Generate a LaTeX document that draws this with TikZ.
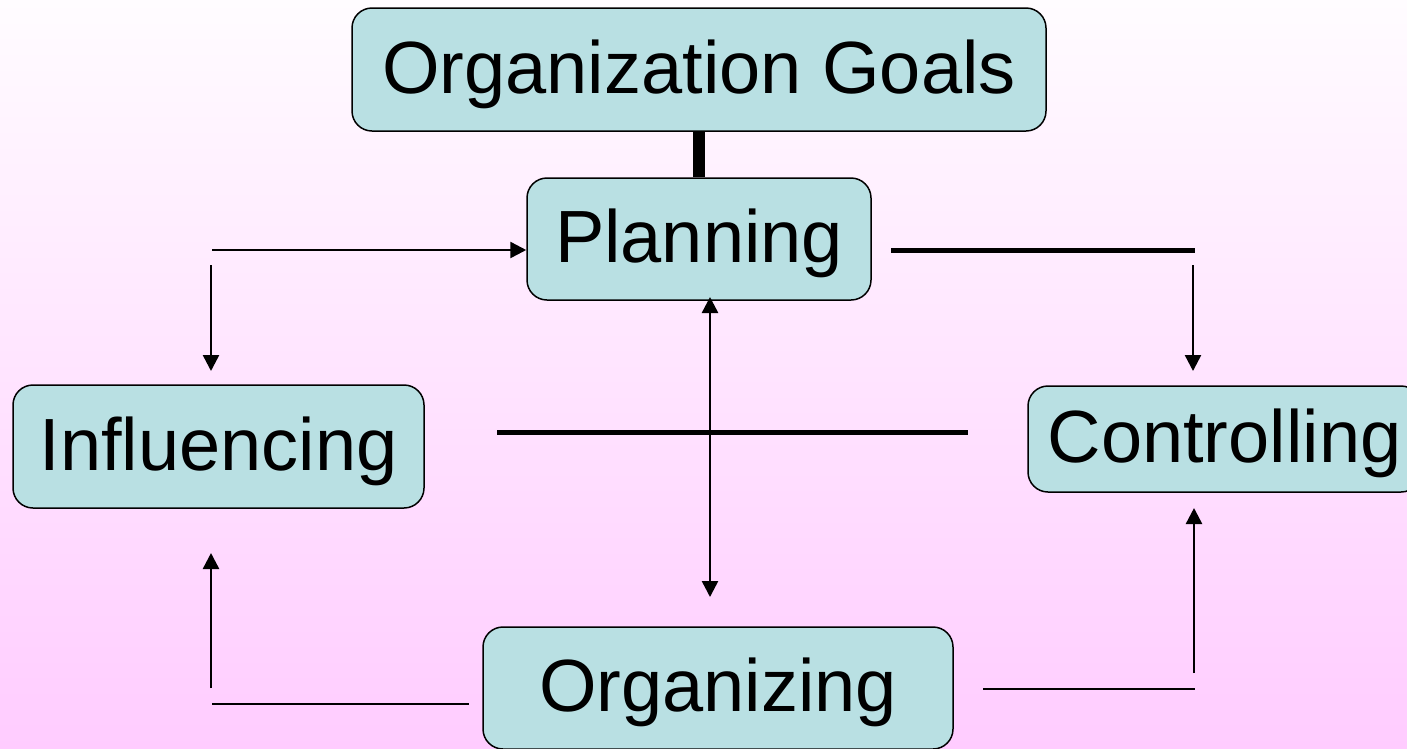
\documentclass[tikz,border=0pt]{standalone}
\usepackage{fontspec}
\setmainfont{Liberation Sans}
\usetikzlibrary{arrows.meta}
\definecolor{boxfill}{RGB}{185,224,227}
\definecolor{bgbottom}{RGB}{255,204,255}
\definecolor{bgtop}{RGB}{255,252,255}
\tikzset{
  box/.style={draw=black, line width=1.5pt, fill=boxfill, rounded corners=20pt,
    inner sep=0pt, text height=53pt, text depth=6pt,
    font=\fontsize{74}{80}\selectfont},
  thin/.style={line width=2.5pt},
  thick/.style={line width=5pt},
  arr/.style={line width=2.5pt, -{Triangle[length=16pt,width=16pt]}},
  darr/.style={line width=2.5pt, {Triangle[length=16pt,width=16pt]}-{Triangle[length=16pt,width=16pt]}}
}
\begin{document}
\begin{tikzpicture}[x=1pt,y=-1pt]
\useasboundingbox (0,0) rectangle (1407,748);
\shade[top color=bgtop, bottom color=bgbottom] (0,0) rectangle (1407,748);

\node[box, minimum width=694pt, minimum height=123pt] (goals) at (699,69.5) {Organization Goals};
\node[box, minimum width=344pt, minimum height=122pt] (plan) at (699,239) {Planning};
\node[box, minimum width=411pt, minimum height=123pt] (infl) at (218.5,446.5) {Influencing};
\node[box, minimum width=393pt, minimum height=106pt] (ctrl) at (1224.5,439) {Controlling};
\node[box, minimum width=470pt, minimum height=122pt] (org) at (718,688) {Organizing};

% goals to planning
\draw[line width=12pt] (goals) -- (plan);

% left top
\coordinate (a1) at (212,250);
\draw[arr] (a1) -- (a1 -| plan.west);
\coordinate (a2) at (211,265);
\coordinate (a2e) at (211,371);
\draw[arr] (a2) -- (a2e);

% right top
\coordinate (b1) at (891,250);
\coordinate (b1e) at (1195,250);
\draw[thick] (b1) -- (b1e);
\coordinate (b2) at (1193,265);
\coordinate (b2e) at (1193,371);
\draw[arr] (b2) -- (b2e);

% vertical double arrow
\coordinate (v1) at (710,297);
\coordinate (v2) at (710,597);
\draw[darr] (v1) -- (v2);

% middle horizontal
\coordinate (m1) at (497,432);
\coordinate (m2) at (968,432);
\draw[thick] (m1) -- (m2);

% bottom left
\coordinate (c1) at (211,688);
\coordinate (c1e) at (211,553);
\draw[arr] (c1) -- (c1e);
\coordinate (c2) at (212,704);
\coordinate (c2e) at (469,704);
\draw[thin] (c2) -- (c2e);

% bottom right
\coordinate (d1) at (1194,673);
\coordinate (d1e) at (1194,508);
\draw[arr] (d1) -- (d1e);
\coordinate (d2) at (983,689);
\coordinate (d2e) at (1195,689);
\draw[thin] (d2) -- (d2e);
\end{tikzpicture}
\end{document}
